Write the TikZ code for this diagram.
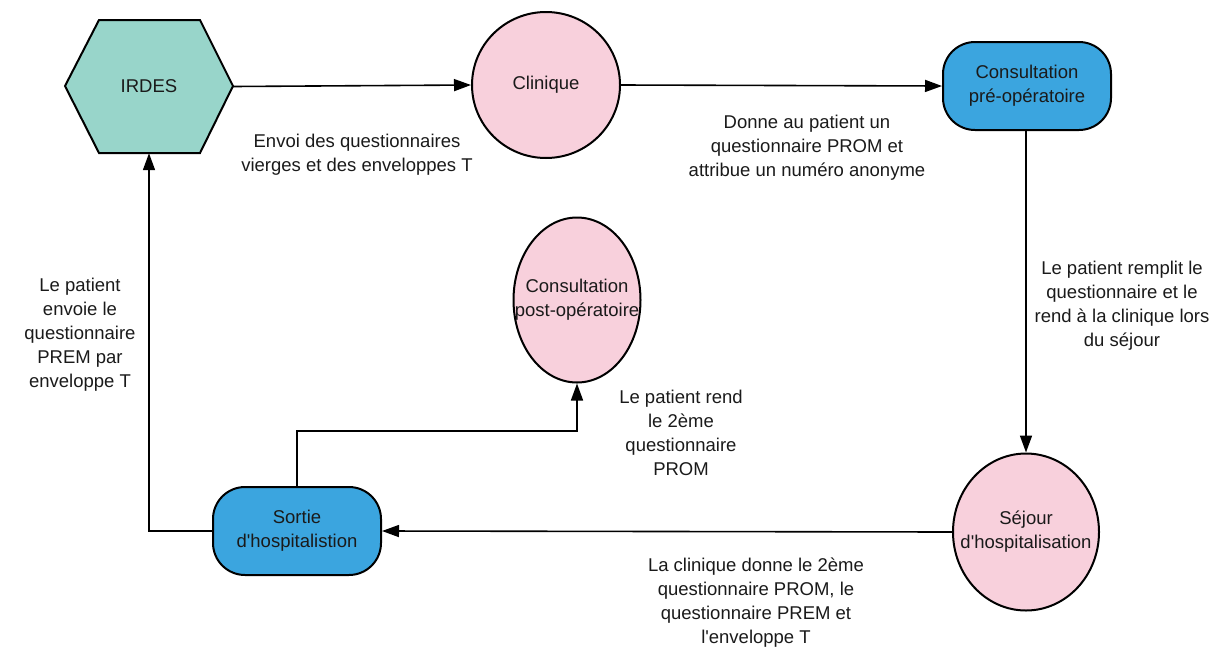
\documentclass[tikz,border=0pt]{standalone}
\usepackage{fontspec}
\setmainfont{Liberation Sans}
\usetikzlibrary{shapes.geometric,arrows.meta}
\definecolor{hexfill}{HTML}{98D5CA}
\definecolor{pinkfill}{HTML}{F8D0DC}
\definecolor{bluefill}{HTML}{3BA5DF}
\definecolor{txt}{HTML}{1A1A1A}
\newcommand{\zwline}[1]{\makebox[0pt][c]{#1}}
\newcommand{\apos}{\textquotesingle}
\begin{document}
\begin{tikzpicture}[x=1pt,y=-1pt,
  every node/.style={font=\fontsize{18.5}{24}\selectfont, text=txt},
  border/.style={draw=black, line width=2pt},
  pinknode/.style={ellipse, border, fill=pinkfill, inner sep=0pt, align=center},
  bluenode/.style={rectangle, rounded corners=32pt, border, fill=bluefill, minimum width=168pt, minimum height=88pt, inner sep=0pt, align=center},
  edge/.style={draw=black, line width=1.6pt, -{Triangle[length=17pt,width=12pt]}},
  lbl/.style={align=center, inner sep=0pt}]
\useasboundingbox (0,0) rectangle (1223,654);
% hexagon
\draw[border, fill=hexfill, line join=miter] (65,86) -- (99,20) -- (200,20) -- (233,86) -- (200,153) -- (99,153) -- cycle;
\node[minimum width=168pt, minimum height=133pt, inner sep=0pt] (irdes) at (149,86.5) {IRDES};
\node[pinknode, minimum width=148pt, minimum height=146pt] (clin) at (546,85) {Clinique};
\node[bluenode] (preop) at (1027,86) {Consultation\\pré-opératoire};
\node[pinknode, minimum width=146pt, minimum height=157pt] (sejour) at (1026,532) {\zwline{Séjour}\\\zwline{d\apos hospitalisation}};
\node[bluenode] (sortie) at (297,531) {Sortie\\d\apos hospitalistion};
\node[pinknode, minimum width=127pt, minimum height=165pt] (postop) at (577,300) {\zwline{Consultation}\\\zwline{post-opératoire}};
% edges
\draw[edge] (irdes.east) -- (clin.west);
\draw[edge] (clin.east) -- (preop.west);
\draw[edge] (preop.south -| sejour.north) -- (sejour.north);
\draw[edge] (sejour.west) -- (sortie.east);
\draw[edge] (sortie.west) -| (irdes.south);
\draw[edge] (sortie.north) -- ++(0,-55) -| (postop.south);
% labels
\node[lbl] (l1) at (357,155) {Envoi des questionnaires\\vierges et des enveloppes T};
\node[lbl] (l2) at (807,148) {Donne au patient un\\questionnaire PROM et\\attribue un numéro anonyme};
\node[lbl] (l3) at (1122,306) {Le patient remplit le\\questionnaire et le\\rend à la clinique lors\\du séjour};
\node[lbl] (l4) at (80,335) {Le patient\\envoie le\\questionnaire\\PREM par\\enveloppe T};
\node[lbl] (l5) at (681,433) {Le patient rend\\le 2ème\\questionnaire\\PROM};
\node[lbl] (l6) at (756,603) {La clinique donne le 2ème\\questionnaire PROM, le\\questionnaire PREM et\\l\apos enveloppe T};
\end{tikzpicture}
\end{document}
